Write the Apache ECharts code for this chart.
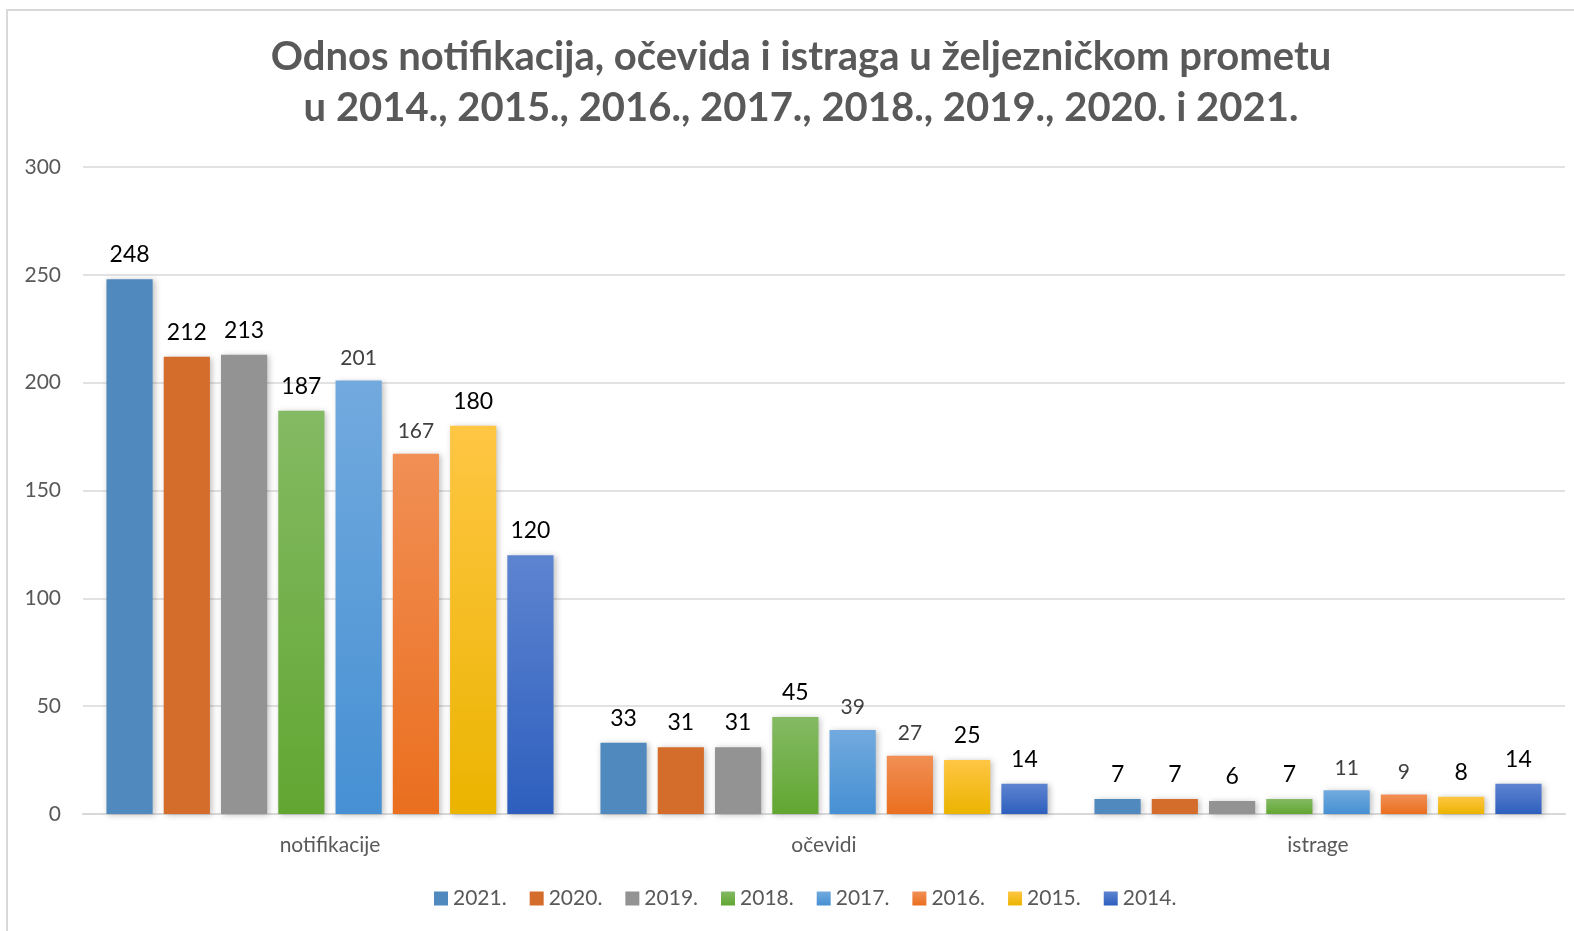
<!DOCTYPE html>
<html>
<head>
<meta charset="utf-8">
<script src="https://cdn.jsdelivr.net/npm/echarts@6/dist/echarts.min.js"></script>
<style>
  html, body { margin: 0; padding: 0; background: #fff; }
  #frame { position: absolute; left: 6px; top: 9px; width: 1580px; height: 940px; border: 2px solid #d9d9d9; box-sizing: border-box; }
  #chart { position: absolute; left: 0; top: 0; width: 1574px; height: 931px; }
</style>
</head>
<body>
<div id="frame"></div>
<div id="chart"></div>
<script>
  // kategorije i podaci po godinama
  const categories = ['notifikacije', 'očevidi', 'istrage'];
  const years = ['2021.', '2020.', '2019.', '2018.', '2017.', '2016.', '2015.', '2014.'];
  const v2021 = [248, 33, 7];
  const v2020 = [212, 31, 7];
  const v2019 = [213, 31, 6];
  const v2018 = [187, 45, 7];
  const v2017 = [201, 39, 11];
  const v2016 = [167, 27, 9];
  const v2015 = [180, 25, 8];
  const v2014 = [120, 14, 14];
  const yTicks = [0, 50, 100, 150, 200, 250, 300];

  const values = [v2021, v2020, v2019, v2018, v2017, v2016, v2015, v2014];
  // [top colour, bottom colour]
  const colors = [
    ['#4f89be', '#4f89be'],
    ['#d46c2b', '#d46c2b'],
    ['#939393', '#939393'],
    ['#84ba63', '#62a632'],
    ['#72aade', '#4690d3'],
    ['#f18f55', '#ea6f1f'],
    ['#ffc644', '#ebb400'],
    ['#5d84d0', '#2e5fbe']
  ];
  // black or grey data labels, as in the original
  const greyLabel = [false, false, false, false, true, true, false, false];

  const font = 'Lato, "Open Sans", sans-serif';

  const series = years.map(function (y, i) {
    return {
      name: y,
      type: 'bar',
      data: values[i],
      barGap: '24%',
      barCategoryGap: '9.5%',
      itemStyle: {
        color: new echarts.graphic.LinearGradient(0, 0, 0, 1, [
          { offset: 0, color: colors[i][0] },
          { offset: 1, color: colors[i][1] }
        ]),
        shadowColor: 'rgba(0,0,0,0.25)',
        shadowBlur: 6,
        shadowOffsetX: 2,
        shadowOffsetY: 1
      },
      label: {
        show: true,
        position: 'top',
        distance: greyLabel[i] ? 12 : 13,
        color: greyLabel[i] ? '#404040' : '#000',
        fontSize: greyLabel[i] ? 21 : 23,
        fontFamily: font
      }
    };
  });

  const chart = echarts.init(document.getElementById('chart'));
  chart.setOption({
    animation: false,
    title: {
      text: 'Odnos notifikacija, očevida i istraga u željezničkom prometu\nu 2014., 2015., 2016., 2017., 2018., 2019., 2020. i 2021.',
      left: 796,
      textAlign: 'center',
      top: 27,
      textStyle: { fontSize: 40, fontWeight: 'bold', color: '#595959', fontFamily: font, lineHeight: 51 }
    },
    legend: {
      data: years,
      bottom: 17,
      left: 429,
      icon: 'rect',
      itemWidth: 14,
      itemHeight: 14,
      itemGap: 23,
      textStyle: { fontSize: 21, color: '#595959', fontFamily: font }
    },
    grid: { left: 83, right: 9, top: 167, bottom: 117, containLabel: false },
    xAxis: {
      type: 'category',
      data: categories,
      axisTick: { show: false },
      axisLine: { lineStyle: { color: '#d9d9d9', width: 2 } },
      axisLabel: { fontSize: 21, color: '#595959', fontFamily: font, margin: 21 }
    },
    yAxis: {
      type: 'value',
      min: yTicks[0],
      max: yTicks[yTicks.length - 1],
      interval: 50,
      axisLine: { show: false },
      axisTick: { show: false },
      splitLine: { lineStyle: { color: '#d9d9d9', width: 1.5 } },
      axisLabel: { fontSize: 21, color: '#595959', fontFamily: font, margin: 22 }
    },
    series: series
  });
</script>
</body>
</html>
